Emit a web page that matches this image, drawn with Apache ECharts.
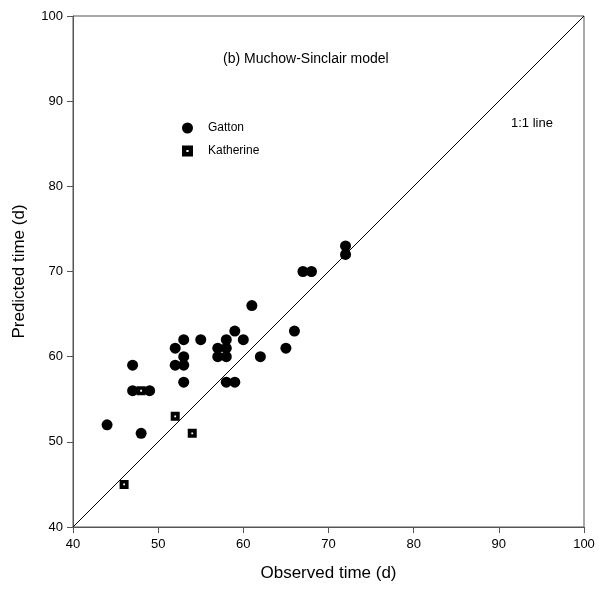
<!DOCTYPE html>
<html>
<head>
<meta charset="utf-8">
<script src="https://cdn.jsdelivr.net/npm/echarts@6/dist/echarts.min.js"></script>
<style>
html,body{margin:0;padding:0;background:#fff;}
#main{width:600px;height:594px;}
</style>
</head>
<body>
<div id="main"></div>
<script>
// observed vs predicted (d)
var gattonObs = [44, 47, 47, 49, 48, 52, 52, 53, 53, 53, 53, 55, 57, 57, 58, 58, 58, 58, 59, 59, 60, 61, 62, 65, 66, 67, 68, 72, 72];
var gattonPred = [52, 59, 56, 56, 51, 61, 59, 62, 60, 59, 57, 62, 61, 60, 62, 61, 60, 57, 63, 57, 62, 66, 60, 61, 63, 70, 70, 73, 72];
var katherineObs = [48, 52, 54, 46];
var katherinePred = [56, 53, 51, 45];
var lineObs = [40, 100];
var linePred = [40, 100];

function pairs(a, b){
	var out = [];
	for(var i = 0; i < a.length; i++){
		out.push([a[i], b[i]]);
	}
	return out;
}

var fontFam = '"Liberation Sans", Arial, sans-serif';
// square with a small white hole
var sqSymbol = 'path://M0,0 L10,0 L10,10 L0,10 Z M4,4 L4,6 L6,6 L6,4 Z';

var myChart = echarts.init(document.getElementById('main'));
var option = {
	backgroundColor: '#fff',
	animation: false,
	title: [
		{
			text: '(b) Muchow-Sinclair model',
			left: 218,
			top: 47,
			textStyle: {fontFamily: fontFam, fontSize: 14, fontWeight: 'normal', color: '#000'}
		},
		{
			text: '1:1 line',
			left: 506,
			top: 112,
			textStyle: {fontFamily: fontFam, fontSize: 13, fontWeight: 'normal', color: '#000'}
		}
	],
	legend: {
		orient: 'vertical',
		left: 177,
		top: 117,
		itemWidth: 11,
		itemHeight: 11,
		itemGap: 11,
		textStyle: {fontFamily: fontFam, fontSize: 12, color: '#000', padding: [0, 0, 0, 10]},
		data: [
			{name: 'Gatton', icon: 'circle'},
			{name: 'Katherine', icon: sqSymbol}
		]
	},
	grid: {
		left: 73,
		right: 16,
		top: 16,
		bottom: 67,
		show: true,
		borderColor: '#555',
		borderWidth: 1
	},
	xAxis: {
		type: 'value',
		min: 40,
		max: 100,
		interval: 10,
		name: 'Observed time (d)',
		nameLocation: 'middle',
		nameGap: 38,
		nameTextStyle: {fontFamily: fontFam, fontSize: 17, color: '#000'},
		axisLine: {lineStyle: {color: '#555'}},
		axisTick: {inside: false, length: 6, lineStyle: {color: '#555'}},
		axisLabel: {fontFamily: fontFam, fontSize: 13, color: '#000', margin: 11},
		splitLine: {show: false}
	},
	yAxis: {
		type: 'value',
		min: 40,
		max: 100,
		interval: 10,
		name: 'Predicted time (d)',
		nameLocation: 'middle',
		nameGap: 45,
		nameTextStyle: {fontFamily: fontFam, fontSize: 17, color: '#000'},
		axisLine: {lineStyle: {color: '#555'}},
		axisTick: {inside: false, length: 6, lineStyle: {color: '#555'}},
		axisLabel: {fontFamily: fontFam, fontSize: 13, color: '#000', margin: 10},
		splitLine: {show: false}
	},
	series: [
		{
			name: '1:1',
			type: 'line',
			data: pairs(lineObs, linePred),
			showSymbol: false,
			symbol: 'none',
			lineStyle: {color: '#000', width: 1},
			silent: true,
			z: 1
		},
		{
			name: 'Gatton',
			type: 'scatter',
			data: pairs(gattonObs, gattonPred),
			symbol: 'circle',
			symbolSize: 11,
			itemStyle: {color: '#000', opacity: 1},
			z: 3
		},
		{
			name: 'Katherine',
			type: 'scatter',
			data: pairs(katherineObs, katherinePred),
			symbol: sqSymbol,
			symbolSize: 9,
			itemStyle: {color: '#000', opacity: 1},
			z: 4
		}
	]
};
myChart.setOption(option);
</script>
</body>
</html>
